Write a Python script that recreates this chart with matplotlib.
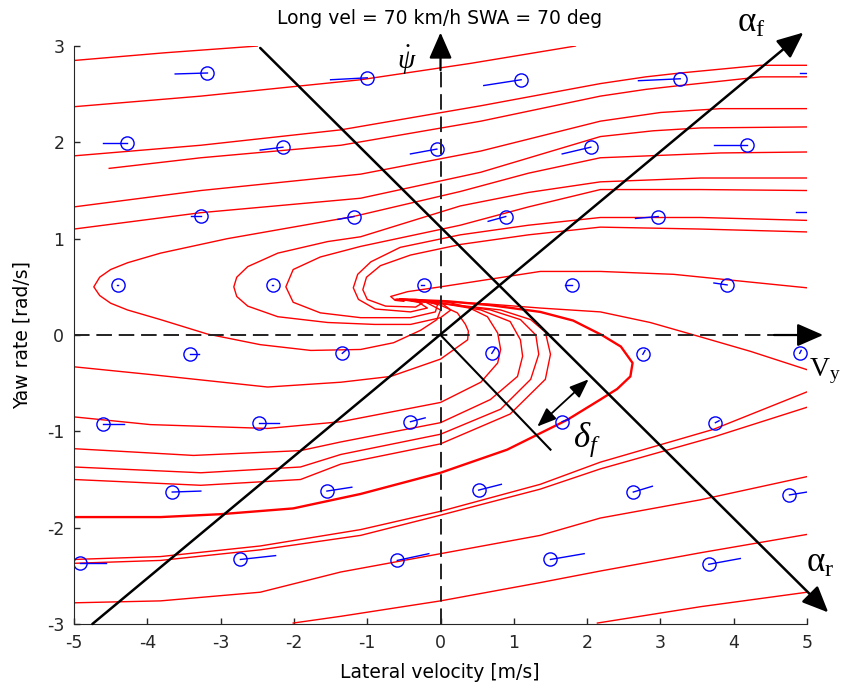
import matplotlib.pyplot as plt

plt.rcParams['mathtext.fontset'] = 'custom'
plt.rcParams['mathtext.rm'] = 'Liberation Serif'
plt.rcParams['mathtext.it'] = 'Liberation Serif:italic'
plt.rcParams['axes.unicode_minus'] = False

TITLE = 'Long vel = 70 km/h SWA = 70 deg'
XLABEL = 'Lateral velocity [m/s]'
YLABEL = 'Yaw rate [rad/s]'
XTICKS = [-5, -4, -3, -2, -1, 0, 1, 2, 3, 4, 5]
YTICKS = [-3, -2, -1, 0, 1, 2, 3]

# phase trajectories, (lateral velocity, yaw rate) pairs
top_a = [(-5.0, 2.85), (-3.76, 2.93), (-2.50, 3.00)]
top_b = [(-5.0, 2.37), (-3.27, 2.48), (-1.09, 2.65), (0.41, 2.82), (1.84, 3.00)]
top_c = [(-5.0, 1.86), (-3.27, 1.97), (-1.36, 2.13), (0.55, 2.38), (2.18, 2.61),
         (2.80, 2.68), (3.27, 2.72), (4.37, 2.80), (5.0, 2.80)]
top_d = [(-4.52, 1.73), (-3.27, 1.84), (-1.36, 1.97), (0.55, 2.22), (2.18, 2.48),
         (2.80, 2.55), (3.27, 2.59), (4.37, 2.68), (5.0, 2.68)]
top_e = [(-5.0, 1.33), (-3.27, 1.50), (-1.09, 1.67), (0.55, 1.91), (2.18, 2.22),
         (3.00, 2.31), (3.82, 2.35), (5.0, 2.35)]
top_f = [(-5.0, 1.10), (-3.27, 1.27), (-1.09, 1.42), (0.55, 1.69), (2.18, 2.06),
         (2.90, 2.12), (3.55, 2.15), (5.0, 2.16)]

loop_g = [(5.0, 1.90), (3.82, 1.89), (2.18, 1.84), (1.20, 1.68), (0.27, 1.49),
          (-1.19, 1.23), (-2.91, 1.00), (-3.82, 0.85), (-4.27, 0.75), (-4.50, 0.68),
          (-4.65, 0.60), (-4.73, 0.50), (-4.65, 0.41), (-4.50, 0.33), (-4.27, 0.26),
          (-3.82, 0.16), (-3.18, 0.01), (-2.46, -0.10), (-1.77, -0.16), (-1.09, -0.15),
          (-0.64, -0.08), (-0.27, 0.05), (-0.05, 0.16), (0.00, 0.26), (-0.20, 0.34),
          (-0.50, 0.37), (-0.62, 0.37)]
loop_h = [(5.0, 1.63), (3.55, 1.63), (2.18, 1.59), (1.20, 1.48), (0.27, 1.34),
          (-1.09, 1.02), (-1.54, 0.97), (-2.22, 0.85), (-2.63, 0.71), (-2.78, 0.60),
          (-2.82, 0.50), (-2.78, 0.40), (-2.63, 0.30), (-2.22, 0.19), (-1.54, 0.13),
          (-0.90, 0.11), (-0.41, 0.11), (0.00, 0.18), (0.14, 0.26), (0.00, 0.34),
          (-0.34, 0.37), (-0.59, 0.37)]
loop_i = [(5.0, 1.50), (3.55, 1.51), (2.18, 1.51), (1.20, 1.33), (0.27, 1.14),
          (-1.09, 0.92), (-1.64, 0.81), (-2.01, 0.68), (-2.11, 0.50), (-2.01, 0.34),
          (-1.64, 0.23), (-1.09, 0.18), (-0.41, 0.18), (-0.07, 0.24), (-0.04, 0.32),
          (-0.27, 0.36), (-0.55, 0.37)]
loop_j = [(5.0, 1.19), (3.55, 1.22), (2.18, 1.22), (1.20, 1.14), (0.27, 1.04),
          (-0.55, 0.91), (-0.95, 0.76), (-1.13, 0.63), (-1.19, 0.49), (-1.12, 0.37),
          (-0.89, 0.27), (-0.41, 0.24), (-0.18, 0.28), (-0.30, 0.34), (-0.55, 0.37)]
loop_k = [(5.0, 1.07), (3.55, 1.10), (2.18, 1.12), (1.20, 1.04), (0.27, 0.94),
          (-0.41, 0.83), (-0.82, 0.72), (-1.01, 0.60), (-1.06, 0.47), (-1.00, 0.37),
          (-0.75, 0.30), (-0.34, 0.29), (-0.25, 0.33), (-0.45, 0.37), (-0.60, 0.37)]
loop_l = [(5.0, 0.49), (3.18, 0.63), (2.18, 0.66), (1.36, 0.66), (0.68, 0.58),
          (0.00, 0.50), (-0.45, 0.45), (-0.68, 0.40), (-0.62, 0.36), (-0.50, 0.35)]
right_m = [(5.0, -0.36), (4.23, -0.17), (3.55, -0.02), (2.86, 0.13), (2.18, 0.24),
           (1.36, 0.28), (0.68, 0.32), (0.00, 0.35), (-0.55, 0.37)]

low_1 = [(-5.0, -0.33), (-3.96, -0.41), (-2.36, -0.54), (-1.36, -0.49), (-0.68, -0.43),
         (0.00, -0.25), (0.37, -0.05), (0.38, 0.04), (0.34, 0.11), (0.23, 0.23),
         (0.00, 0.31), (-0.23, 0.35), (-0.55, 0.37)]
low_2 = [(-5.0, -0.85), (-3.96, -0.93), (-2.36, -0.97), (-1.36, -0.90), (0.00, -0.70),
         (0.55, -0.49), (0.78, -0.29), (0.82, -0.15), (0.78, 0.02), (0.64, 0.19),
         (0.37, 0.29), (0.10, 0.34), (-0.55, 0.37)]
low_3 = [(-5.0, -1.18), (-3.37, -1.25), (-1.91, -1.20), (-1.36, -1.11), (0.00, -0.91),
         (0.68, -0.67), (1.05, -0.43), (1.12, -0.22), (1.09, -0.05), (0.95, 0.14),
         (0.55, 0.26), (0.00, 0.33), (-0.55, 0.37)]
low_4 = [(-5.0, -1.37), (-3.27, -1.43), (-1.91, -1.37), (-1.36, -1.24), (0.00, -1.03),
         (0.82, -0.77), (1.23, -0.46), (1.34, -0.20), (1.30, 0.00), (1.09, 0.16),
         (0.68, 0.26), (0.00, 0.33), (-0.55, 0.37)]
low_5 = [(-5.0, -1.50), (-3.27, -1.56), (-1.91, -1.50), (-1.36, -1.34), (0.00, -1.13),
         (0.95, -0.82), (1.43, -0.46), (1.50, -0.20), (1.43, 0.03), (1.23, 0.16),
         (0.82, 0.26), (0.00, 0.33), (-0.55, 0.37)]
low_6 = [(-5.0, -1.89), (-3.82, -1.89), (-3.00, -1.86), (-2.01, -1.80), (-1.09, -1.65),
         (0.00, -1.43), (0.91, -1.19), (1.73, -0.88), (2.18, -0.67), (2.41, -0.56),
         (2.59, -0.43), (2.62, -0.29), (2.46, -0.12), (2.20, 0.00), (1.81, 0.15),
         (1.36, 0.24), (0.68, 0.31), (0.10, 0.35), (-0.55, 0.37)]
low_7 = [(-5.0, -2.33), (-3.82, -2.30), (-2.46, -2.19), (-1.09, -2.02), (0.00, -1.83),
         (1.36, -1.55), (2.18, -1.32), (3.72, -0.98), (5.0, -0.59)]
low_8 = [(-5.0, -2.37), (-3.82, -2.34), (-2.46, -2.23), (-1.09, -2.08), (0.00, -1.87),
         (1.36, -1.60), (2.18, -1.39), (3.72, -1.06), (5.0, -0.75)]
low_9 = [(-5.0, -2.78), (-3.82, -2.76), (-2.46, -2.67), (-1.36, -2.46), (0.00, -2.27),
         (1.36, -2.08), (2.18, -1.90), (3.55, -1.71), (5.0, -1.47)]
low_10 = [(-2.01, -2.99), (-1.36, -2.92), (0.00, -2.76), (1.36, -2.57), (2.18, -2.45),
          (3.55, -2.26), (5.0, -2.07)]
low_11 = [(2.14, -2.99), (3.55, -2.82), (5.0, -2.67)]

trajectories = [top_a, top_b, top_c, top_d, top_e, top_f,
                loop_g, loop_h, loop_i, loop_j, loop_k, loop_l, right_m,
                low_1, low_2, low_3, low_4, low_5, low_7, low_8, low_9, low_10, low_11]

# direction field samples: base point and vector components
q_vy = [-3.18, -1.00, 1.10, 3.27, 5.30,
        -4.28, -2.15, -0.05, 2.05, 4.18,
        -3.27, -1.18, 0.89, 2.97, 5.25,
        -4.40, -2.28, -0.23, 1.80, 3.91,
        -3.42, -1.34, 0.70, 2.76, 4.90,
        -4.60, -2.47, -0.41, 1.66, 3.75,
        -3.66, -1.55, 0.52, 2.63, 4.76,
        -4.92, -2.73, -0.59, 1.50, 3.66]
q_r = [2.72, 2.67, 2.65, 2.66, 2.72,
       1.99, 1.95, 1.93, 1.95, 1.97,
       1.24, 1.23, 1.23, 1.23, 1.28,
       0.52, 0.52, 0.52, 0.52, 0.52,
       -0.20, -0.19, -0.19, -0.20, -0.19,
       -0.92, -0.91, -0.90, -0.90, -0.91,
       -1.63, -1.62, -1.61, -1.63, -1.66,
       -2.37, -2.33, -2.34, -2.33, -2.38]
q_u = [-0.44, -0.50, -0.51, -0.57, -0.40,
       -0.32, -0.31, -0.36, -0.39, -0.45,
       -0.14, -0.22, -0.24, -0.31, -0.40,
       -0.02, -0.02, -0.03, -0.10, -0.18,
       0.12, 0.06, 0.05, 0.03, 0.02,
       0.28, 0.26, 0.20, 0.10, 0.05,
       0.39, 0.34, 0.31, 0.26, 0.24,
       0.35, 0.48, 0.43, 0.46, 0.43]
q_v = [-0.01, -0.02, -0.06, -0.02, 0.00,
       0.00, -0.03, -0.05, -0.07, 0.00,
       0.00, -0.03, -0.05, -0.02, 0.00,
       0.00, 0.00, 0.00, 0.00, 0.02,
       0.00, 0.04, 0.06, 0.04, 0.03,
       0.00, 0.00, 0.04, 0.03, 0.02,
       0.01, 0.04, 0.06, 0.06, 0.03,
       0.00, 0.04, 0.07, 0.06, 0.06]


def draw_arrow(ax, start, end, lw=1.6, head='-|>,head_length=0.8,head_width=0.35', scale=20):
    ax.annotate('', xy=end, xytext=start, annotation_clip=False,
                arrowprops=dict(arrowstyle=head, lw=lw, color='k',
                                shrinkA=0, shrinkB=0, mutation_scale=scale))


fig = plt.figure(figsize=(8.44, 6.87), dpi=100)
ax = fig.add_axes([0.0877, 0.0917, 0.8685, 0.8413])

# red trajectories
for traj in trajectories:
    xs, ys = zip(*traj)
    ax.plot(xs, ys, color='#ff0000', lw=1.0)
xs, ys = zip(*low_6)
ax.plot(xs, ys, color='#ff0000', lw=1.7)

# direction field: circle at base, line along the vector
for x, y, u, v in zip(q_vy, q_r, q_u, q_v):
    ax.plot([x, x + u], [y, y + v], color='#0000ff', lw=1.0)
ax.plot(q_vy, q_r, 'o', mfc='none', mec='#0000ff', mew=1.0, ms=9.5)

# coordinate axes drawn as dashed arrows
ax.plot([-5, 4.55], [0, 0], color='#222222', lw=1.4, dashes=(8, 3.5))
draw_arrow(ax, (4.55, 0), (5.22, 0))
ax.plot([0, 0], [-3, 2.75], color='#222222', lw=1.4, dashes=(8, 3.5))
draw_arrow(ax, (0, 2.75), (0, 3.14))

# slip angle axes
draw_arrow(ax, (-4.75, -3.0), (4.95, 3.14), lw=1.8)
draw_arrow(ax, (-2.46, 2.98), (5.29, -2.88), lw=1.8)
ax.plot([0, 1.50], [0, -1.19], color='k', lw=1.5)
draw_arrow(ax, (1.32, -0.95), (2.02, -0.46), lw=1.3,
           head='<|-|>,head_length=0.9,head_width=0.35', scale=13)

ax.text(4.05, 3.15, r'$\mathrm{\alpha}_\mathrm{f}$', fontsize=25, va='baseline')
ax.text(4.98, -2.46, r'$\mathrm{\alpha}_\mathrm{r}$', fontsize=25, va='baseline')
ax.text(5.03, -0.43, r'$\mathrm{V}_\mathrm{y}$', fontsize=20, va='baseline')
ax.text(1.81, -1.16, r'$\delta_f$', fontsize=25, va='baseline')
ax.text(-0.60, 2.76, r'$\dot{\psi}$', fontsize=20, va='baseline')

ax.set_xlim(-5, 5)
ax.set_ylim(-3, 3)
ax.set_xticks(XTICKS)
ax.set_yticks(YTICKS)
ax.tick_params(direction='in', length=4, width=1, labelsize=12.5, pad=7, colors='#262626')
for side in ['top', 'right']:
    ax.spines[side].set_visible(False)
for side in ['left', 'bottom']:
    ax.spines[side].set_color('#262626')

fig.text(440 / 844, 1 - 24 / 687, TITLE, ha='center', va='baseline', fontsize=13.5)
fig.text(440 / 844, 1 - 678 / 687, XLABEL, ha='center', va='baseline', fontsize=13.5)
fig.text(22 / 844, 1 - 335 / 687, YLABEL, ha='center', va='center', rotation=90, fontsize=13.5)

fig.savefig('out.png', dpi=100)
